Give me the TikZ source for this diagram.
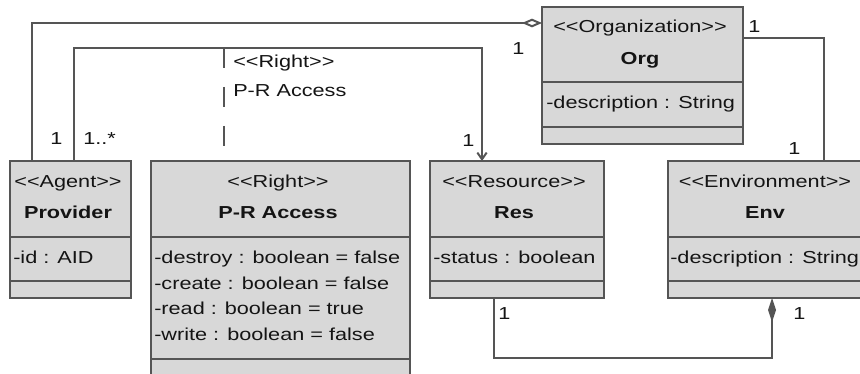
\documentclass[tikz,border=0pt]{standalone}
\usepackage{fontspec}
\setmainfont[FakeStretch=1.25,Ligatures=TeXOff]{Liberation Sans}
\usetikzlibrary{arrows.meta,calc}

\definecolor{boxfill}{HTML}{D8D8D8}
\definecolor{boxline}{HTML}{555555}
\definecolor{connline}{HTML}{555555}
\definecolor{ink}{HTML}{141414}

% class box: name, x1, y1, x2, y2, first divider y, second divider y
\newcommand\umlbox[7]{%
  \node[classbox, minimum width={(#4-#2)*0.75pt}, minimum height={(#5-#3)*0.75pt}]
    (#1) at ({(#2+#4)/2},{(#3+#5)/2}) {};
  \draw[divider] (#1.west |- 0,#6) -- (#1.east |- 0,#6);
  \draw[divider] (#1.west |- 0,#7) -- (#1.east |- 0,#7);
}

\begin{document}
\begin{tikzpicture}[x=0.75pt,y=-0.75pt,
  every node/.style={font=\fontsize{13pt}{16pt}\selectfont, text=ink},
  classbox/.style={draw=boxline, fill=boxfill, line width=1.5pt, inner sep=0pt, outer sep=0pt},
  divider/.style={draw=boxline, line width=1.5pt},
  conn/.style={draw=connline, line width=1.5pt},
  stereo/.style={anchor=base, inner sep=0pt},
  cname/.style={anchor=base, inner sep=0pt, font=\fontsize{13pt}{16pt}\selectfont\bfseries},
  attr/.style={anchor=base west, inner sep=0pt},
  mult/.style={anchor=base west, inner sep=0pt},
]
\useasboundingbox (0,0) rectangle (860,374);
\clip (0,0) rectangle (860,374);
\fill[white] (0,0) rectangle (860,374);

% classes
\umlbox{prov}{10}{161}{131}{298}{237}{281}
\umlbox{pra}{151}{161}{410}{400}{237}{359}
\umlbox{res}{430}{161}{604}{298}{237}{281}
\umlbox{env}{668}{161}{862}{298}{237}{281}
\umlbox{org}{542}{7}{743}{144}{82}{127}

% class texts
\node[stereo] (orgst) at (640,33) {<<Organization>>};
\node[cname]  (orgnm) at (640,65) {Org};
\node[attr]   (orga1) at (546,109) {-description : String};

\node[stereo] (provst) at (68,187) {<<Agent>>};
\node[cname]  (provnm) at (68,219) {Provider};
\node[attr]   (prova1) at (13,263) {-id : AID};

\node[stereo] (prast) at (278,187) {<<Right>>};
\node[cname]  (pranm) at (278,219) {P-R Access};
\node[attr]   (praa1) at (154,263) {-destroy : boolean = false};
\node[attr]   (praa2) at (154,289) {-create : boolean = false};
\node[attr]   (praa3) at (154,314.5) {-read : boolean = true};
\node[attr]   (praa4) at (154,340) {-write : boolean = false};

\node[stereo] (resst) at (514,187) {<<Resource>>};
\node[cname]  (resnm) at (514,219) {Res};
\node[attr]   (resa1) at (433,263) {-status : boolean};

\node[stereo] (envst) at (765,187) {<<Environment>>};
\node[cname]  (envnm) at (765,219) {Env};
\node[attr]   (enva1) at (670,263) {-description : String};

% aggregation Provider -> Org
\draw[conn, -{Diamond[fill=white, length=15pt, width=6.5pt]}]
  ($(prov.north west)+(22,0)$) |- (org.west |- 0,23);

% association Provider -> Res
\draw[conn, -{Straight Barb[length=5pt, width=7pt]}]
  ($(prov.north west)+(64,0)$) |- ($(res.north west)+(52,-113)$)
  -- ($(res.north west)+(52,0)$);

% association class link
\coordinate (amid) at (224,48);
\draw[conn, dash pattern=on 15pt off 14.25pt] (amid) -- ($(pra.north west)+(73,-15)$);
\node[mult] (aclst) at (233,68) {<<Right>>};
\node[mult] (aclnm) at (233,97) {P-R Access};

% association Org -> Env
\draw[conn] ($(org.north east)+(0,31)$) -| ($(env.north west)+(156,0)$);

% composition Env <>- Res
\draw[conn, -{Diamond[length=18pt, width=6pt]}]
  ($(res.south west)+(64,0)$) -- ++(0,60) -| ($(env.south west)+(104,0)$);

% multiplicities
\node[mult] (m1) at (50,145) {1};
\node[mult] (m2) at (83,145) {1..*};
\node[mult] (m3) at (512,55) {1};
\node[mult] (m4) at (462,147) {1};
\node[mult] (m5) at (748,33) {1};
\node[mult] (m6) at (788,155) {1};
\node[mult] (m7) at (498,319) {1};
\node[mult] (m8) at (793,319) {1};
\end{tikzpicture}
\end{document}
